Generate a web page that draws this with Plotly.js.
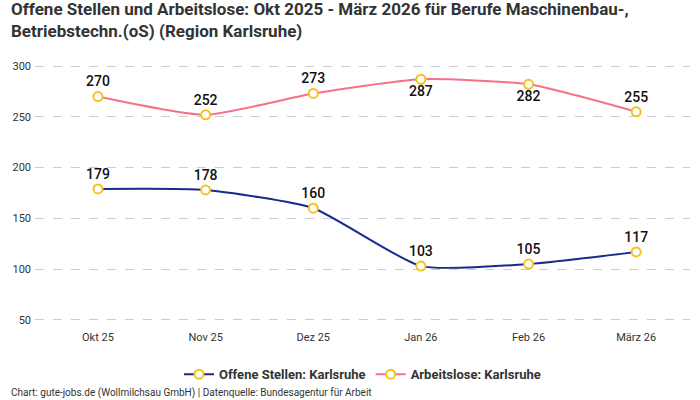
<!DOCTYPE html>
<html>
<head>
<meta charset="utf-8">
<script src="https://cdn.plot.ly/plotly-3.0.1.min.js"></script>
<style>
  html, body { margin: 0; padding: 0; background: #fff; }
  #chart { width: 700px; height: 400px; }
</style>
</head>
<body>
<div id="chart"></div>
<script>
const months = ["Okt 25", "Nov 25", "Dez 25", "Jan 26", "Feb 26", "März 26"];
const offeneStellen = [179, 178, 160, 103, 105, 117];
const arbeitslose = [270, 252, 273, 287, 282, 255];
const arbeitsloseTextPos = ["top center", "top center", "top center", "bottom center", "bottom center", "top center"];
const yTicks = [50, 100, 150, 200, 250, 300];

const font = "'Liberation Sans Narrow', 'Roboto', sans-serif";

const markerStyle = {
  color: "#ffffff",
  size: 9,
  symbol: "circle",
  line: { color: "#f6c21c", width: 2 },
};

const stellen = {
  x: months,
  y: offeneStellen,
  type: "scatter",
  mode: "lines+markers+text",
  line: { color: "#1b2a8f", width: 2, shape: "spline", smoothing: 0.55 },
  marker: markerStyle,
  text: offeneStellen.map(String),
  textposition: "top center",
  textfont: { family: "Roboto, sans-serif", size: 14, color: "#111", weight: 500 },
  name: "Offene Stellen: Karlsruhe",
  cliponaxis: false,
};

const arbeitsl = {
  x: months,
  y: arbeitslose,
  type: "scatter",
  mode: "lines+markers+text",
  line: { color: "#f7708a", width: 2, shape: "spline", smoothing: 0.55 },
  marker: markerStyle,
  text: arbeitslose.map(String),
  textposition: arbeitsloseTextPos,
  textfont: { family: "Roboto, sans-serif", size: 14, color: "#111", weight: 500 },
  name: "Arbeitslose: Karlsruhe",
  cliponaxis: false,
};

const layout = {
  width: 700,
  height: 400,
  margin: { t: 62, l: 35, r: 10, b: 75 },
  paper_bgcolor: "#ffffff",
  plot_bgcolor: "#ffffff",
  font: { family: font, color: "#333" },
  showlegend: true,
  legend: {
    orientation: "h",
    x: 0.5,
    xanchor: "center",
    y: -0.13,
    yanchor: "top",
    font: { family: font, size: 13, color: "#333", weight: "bold" },
  },
  xaxis: {
    type: "category",
    range: [-0.585, 5.5],
    showline: false,
    showgrid: false,
    zeroline: false,
    ticks: "",
    ticklabelstandoff: 4,
    tickfont: { family: "Roboto, sans-serif", size: 11, color: "#333" },
    fixedrange: true,
  },
  yaxis: {
    range: [45, 304],
    tickvals: yTicks,
    showline: false,
    zeroline: false,
    showgrid: true,
    gridcolor: "#cccccc",
    griddash: "dash",
    ticks: "",
    ticklabelstandoff: 3,
    tickfont: { family: "Roboto, sans-serif", size: 11, color: "#333" },
    fixedrange: true,
  },
  annotations: [
    {
      text: "<b>Offene Stellen und Arbeitslose: Okt 2025 - März 2026 für Berufe Maschinenbau-,<br>Betriebstechn.(oS) (Region Karlsruhe)</b>",
      xref: "paper",
      yref: "paper",
      x: -0.04,
      xanchor: "left",
      y: 1.16,
      yanchor: "middle",
      align: "left",
      showarrow: false,
      font: { family: font, size: 17, color: "#333" },
    },
    {
      text: "Chart: gute-jobs.de (Wollmilchsau GmbH) | Datenquelle: Bundesagentur für Arbeit",
      xref: "paper",
      yref: "paper",
      x: -0.04,
      xanchor: "left",
      y: -0.259,
      yanchor: "middle",
      showarrow: false,
      font: { family: "Roboto, sans-serif", size: 10, color: "#333" },
    },
  ],
};

Plotly.newPlot("chart", [stellen, arbeitsl], layout, { displayModeBar: false, responsive: false });
</script>
</body>
</html>
